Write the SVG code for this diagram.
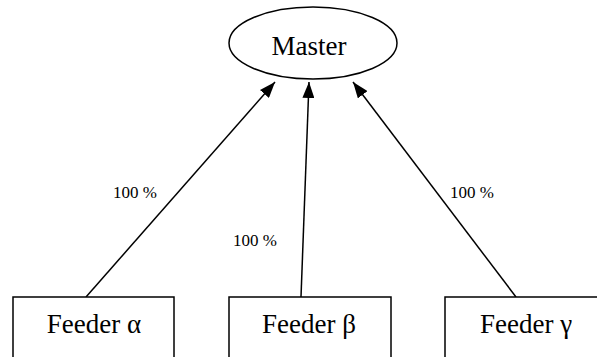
<svg xmlns="http://www.w3.org/2000/svg" width="597" height="357" viewBox="0 0 597 357">
<style>
.shape{fill:#fff;stroke:#000;stroke-width:1.5}
.lbl{font-family:"Liberation Serif","Times New Roman",serif;fill:#000}
.node{font-size:27px;text-anchor:middle}
.pct{font-size:17px}
.conn{stroke:#000;stroke-width:1.5;fill:none;marker-end:url(#ah)}
</style>
<defs>
<marker id="ah" markerUnits="userSpaceOnUse" markerWidth="16" markerHeight="12" refX="16" refY="6" orient="auto">
<path d="M0,0 L16,6 L0,12 Z" fill="#000"/>
</marker>
</defs>
<g id="connectors">
<line class="conn" x1="86" y1="297" x2="275" y2="82"/>
<line class="conn" x1="301" y1="297" x2="309" y2="82"/>
<line class="conn" x1="516" y1="297" x2="353" y2="82"/>
</g>
<g id="master">
<ellipse class="shape" cx="313" cy="43" rx="84" ry="36"/>
<text class="lbl node" x="309" y="55">Master</text>
</g>
<g id="feeder-alpha">
<rect class="shape" x="13" y="297" width="161" height="80"/>
<text class="lbl node" x="94" y="333">Feeder α</text>
</g>
<g id="feeder-beta">
<rect class="shape" x="229" y="297" width="162" height="80"/>
<text class="lbl node" x="309" y="333">Feeder β</text>
</g>
<g id="feeder-gamma">
<rect class="shape" x="445" y="297" width="161" height="80"/>
<text class="lbl node" x="526" y="333">Feeder γ</text>
</g>
<g id="labels">
<text class="lbl pct" x="113" y="198">100 %</text>
<text class="lbl pct" x="233" y="246">100 %</text>
<text class="lbl pct" x="450" y="198">100 %</text>
</g>
</svg>
